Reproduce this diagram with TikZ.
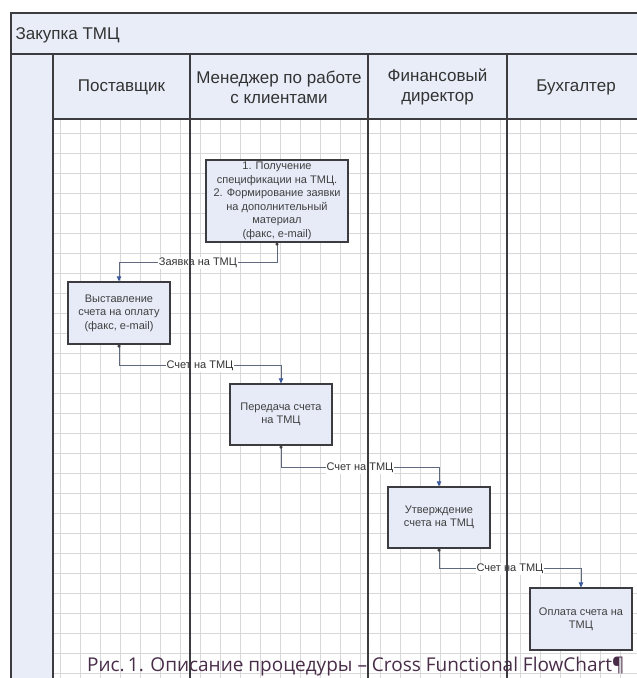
\documentclass[tikz,border=0pt]{standalone}
\usepackage{fontspec}
\setmainfont{Liberation Sans}
\newfontfamily\capfont{Open Sans}
\usetikzlibrary{arrows.meta}
\definecolor{laneblue}{RGB}{232,237,248}
\definecolor{boxblue}{RGB}{230,235,247}
\definecolor{framegray}{RGB}{60,60,64}
\definecolor{gridgray}{RGB}{216,216,216}
\definecolor{flowgray}{RGB}{95,105,125}
\definecolor{tipblue}{RGB}{60,90,160}
\definecolor{capcolor}{RGB}{72,44,72}
\begin{document}
\begin{tikzpicture}[x=1pt,y=-1pt]
	\tikzset{box/.style=
        {draw=framegray, line width=1.2pt, fill=boxblue, align=center, text=black!75,
         font=\fontsize{11}{13.5}\selectfont, inner sep=0pt},
        hdr/.style={align=center, text=black!80, font=\fontsize{17}{20}\selectfont},
        lbl/.style={fill=white, inner sep=1pt, text=black!80, font=\fontsize{11}{12}\selectfont},
        flow/.style={draw=flowgray, line width=0.8pt,
         {Circle[length=3pt,color=black!75]}-{Triangle[length=5pt,width=4.5pt,color=tipblue]}},
        lane/.style={draw=framegray, line width=1.6pt}
     }
	\useasboundingbox (0,0) rectangle (637,678);
	% pool background
	\fill[laneblue] (11,13) rectangle (650,54);
	\fill[laneblue] (11,54) rectangle (53,678);
	\fill[laneblue] (53,54) rectangle (650,119);
	% grid
	\foreach \gx in {60,80,...,640} \draw[gridgray, line width=0.9pt] (\gx,119) -- (\gx,678);
	\foreach \gy in {133,153,...,673} \draw[gridgray, line width=0.9pt] (53,\gy) -- (650,\gy);
	% title and lanes
	\node[anchor=west, text=black!80, font=\fontsize{17}{20}\selectfont] (title) at (12,35) {Закупка ТМЦ};
	\node[hdr] (h1) at (121.5,87) {Поставщик};
	\node[hdr] (h2) at (279,87) {Менеджер по работе\\с клиентами};
	\node[hdr] (h3) at (437.5,87) {Финансовый\\директор};
	\node[hdr] (h4) at (576,87) {Бухгалтер};
	% steps
	\node[box, minimum width=142pt, minimum height=82pt] (m1) at (277,201)
        {1. Получение\\спецификации на ТМЦ.\\2. Формирование заявки\\на дополнительный\\материал\\(факс, e-mail)};
	\node[box, minimum width=102pt, minimum height=62pt] (p1) at (119,313)
        {Выставление\\счета на оплату\\(факс, e-mail)};
	\node[box, minimum width=102pt, minimum height=61pt] (m2) at (281,414.5) {Передача счета\\на ТМЦ};
	\node[box, minimum width=102pt, minimum height=61pt] (f1) at (439,517.5) {Утверждение\\счета на ТМЦ};
	\node[box, minimum width=102pt, minimum height=62pt] (b1) at (581,619) {Оплата счета на\\ТМЦ};
	% flows
	\draw[flow] (m1.south) -- ++(0,20) -| node[lbl,pos=0.25] {Заявка на ТМЦ} (p1.north);
	\draw[flow] (p1.south) -- ++(0,21) -| node[lbl,pos=0.25] {Счет на ТМЦ} (m2.north);
	\draw[flow] (m2.south) -- ++(0,22) -| node[lbl,pos=0.25] {Счет на ТМЦ} (f1.north);
	\draw[flow] (f1.south) -- ++(0,20) -| node[lbl,pos=0.25] {Счет на ТМЦ} (b1.north);
	% frame
	\draw[lane] (650,13) -- (11,13) -- (11,678);
	\draw[lane] (11,54) -- (650,54);
	\draw[lane] (53,119) -- (650,119);
	\foreach \lx in {53,190,368,507} \draw[lane] (\lx,54) -- (\lx,678);
	% caption
	\node[anchor=base west, inner sep=0pt, text=capcolor, font=\capfont\fontsize{19}{21}\selectfont] (cap) at (87,671)
        {Рис.\,1. Описание процедуры – Cross Functional FlowChart¶};
\end{tikzpicture}
\end{document}
